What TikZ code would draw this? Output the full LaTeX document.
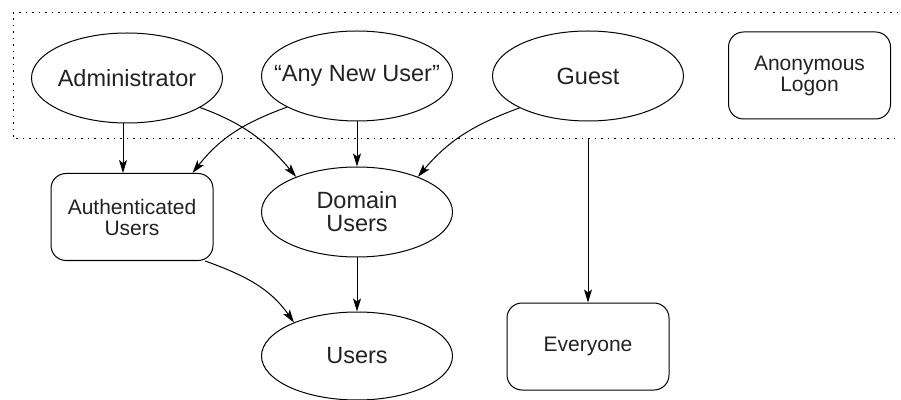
\documentclass[tikz,border=0pt]{standalone}
\usepackage{fontspec}
\setmainfont{Liberation Sans}
\usetikzlibrary{shapes.geometric,arrows.meta}
\definecolor{txt}{HTML}{222222}
\begin{document}
\begin{tikzpicture}[x=1pt,y=1pt,line width=1pt,
  ell/.style={draw, ellipse, minimum width=191pt, minimum height=90pt, inner sep=0pt},
  lbl/.style={text=txt, font=\fontsize{23.5}{23}\selectfont, align=center, inner sep=0pt},
  box/.style={draw, rectangle, rounded corners=15pt, minimum width=162pt, minimum height=87pt,
    text=txt, font=\fontsize{21}{21}\selectfont, align=center},
  arr/.style={-{Stealth[length=13pt,width=8pt,inset=3pt]}},
  grp/.style={line width=1pt, dash pattern=on 1.5pt off 5pt}]
\useasboundingbox (0,0) rectangle (901,399);
% group
\draw[grp] (898,386) -- (13,386) -- (13,260) -- (898,260);
\coordinate (cl) at (588,260);
% nodes
\node[ell, label={[lbl]center:Administrator}] (admin) at (127,321) {};
\node[ell, label={[lbl]center:“Any New User”}] (anu) at (357,323) {};
\node[ell, label={[lbl]center:Guest}] (guest) at (588,323) {};
\node[box] (anon) at (809.5,323.5) {Anonymous\\Logon};
\node[box] (auth) at (132,182) {Authenticated\\Users};
\node[ell, label={[lbl]center:Domain\\Users}] (domain) at (357,187) {};
\node[ell, minimum height=88pt, label={[lbl]center:Users}] (users) at (357,43) {};
\node[box] (every) at (588,52.5) {Everyone};
% edges
\draw[arr] ([xshift=-4pt]admin.south) -- ([xshift=-9pt]auth.north);
\draw[arr] (admin.-22) to[out=-20, in=130] (domain.150);
\draw[arr] (anu.204) to[out=-160, in=52] (auth.36);
\draw[arr] (anu.south) -- (domain.north);
\draw[arr] (guest.205) to[out=-160, in=50] (domain.30);
\draw[arr] (cl) -- (every.north);
\draw[arr] (auth.-31) to[out=-20, in=125] (users.152);
\draw[arr] (domain.south) -- (users.north);
\end{tikzpicture}
\end{document}
